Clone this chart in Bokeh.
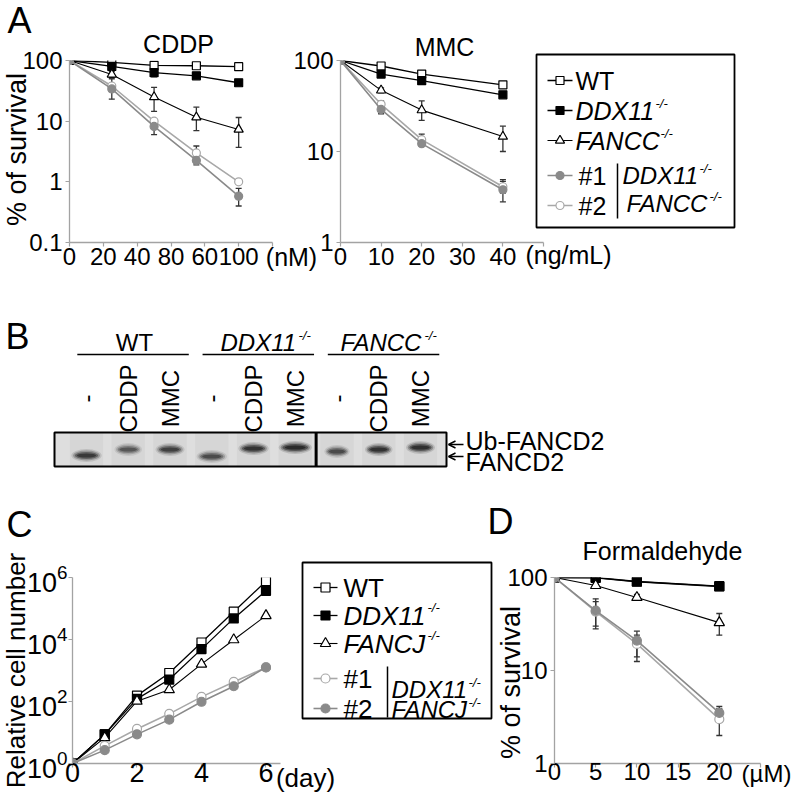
import math
from bokeh.plotting import figure
from bokeh.layouts import row, column
from bokeh.models import (Range1d, FixedTicker, Whisker, TeeHead,
                          ColumnDataSource, Arrow, OpenHead)
from bokeh.embed import file_html
from bokeh.resources import INLINE
from bokeh.core.properties import value

FONT = "Liberation Sans"
AXIS_GRAY = "#a3a3a3"
ERR_COLOR = "#333333"
GRAY_FILLED = "#8a8a8a"
GRAY_OPEN = "#a8a8a8"

# ---------------- Panel A : CDDP ----------------
CDDP_DOSE = [0, 25, 50, 75, 100]
CDDP_TICKS = [0, 20, 40, 60, 80, 100, 120]
CDDP_TICK_LABELS = ["0", "20", "40", "80", "60", "100", ""]
CDDP_Y_TICKS = [0.1, 1, 10, 100]
CDDP_Y_LABELS = ["0.1", "1", "10", "100"]
CDDP_WT = [100, 93, 83, 82, 79]
CDDP_WT_LO = [100, 89, 77, 78, 76]
CDDP_WT_HI = [100, 97, 90, 86, 82]
CDDP_DDX11 = [100, 80, 63, 56, 43]
CDDP_DDX11_LO = [100, 76, 54, 52, 41]
CDDP_DDX11_HI = [100, 84, 73, 60, 46]
CDDP_FANCC = [100, 59, 25, 11.6, 7.3]
CDDP_FANCC_LO = [100, 53, 14.5, 7, 3.7]
CDDP_FANCC_HI = [100, 66, 36, 17, 11.5]
CDDP_DKO1 = [100, 34, 8.2, 2.25, 0.58]
CDDP_DKO1_LO = [100, 23, 6, 1.9, 0.4]
CDDP_DKO1_HI = [100, 50, 11, 2.9, 0.78]
CDDP_DKO2 = [100, 38, 10, 3.0, 1.0]
CDDP_DKO2_LO = [100, 35, 9, 2.6, 0.95]
CDDP_DKO2_HI = [100, 41, 11, 3.9, 1.05]

# ---------------- Panel A : MMC ----------------
MMC_DOSE = [0, 10, 20, 40]
MMC_TICKS = [0, 10, 20, 30, 40, 50]
MMC_TICK_LABELS = ["0", "10", "20", "30", "40", ""]
MMC_Y_TICKS = [1, 10, 100]
MMC_Y_LABELS = ["1", "10", "100"]
MMC_WT = [100, 87, 71, 54]
MMC_WT_LO = [100, 80, 67, 51]
MMC_WT_HI = [100, 94, 75, 57]
MMC_DDX11 = [100, 71, 60, 42]
MMC_DDX11_LO = [100, 68, 57, 40]
MMC_DDX11_HI = [100, 74, 63, 44]
MMC_FANCC = [100, 47, 28.5, 14.6]
MMC_FANCC_LO = [100, 44, 22, 10]
MMC_FANCC_HI = [100, 50, 36, 19]
MMC_DKO1 = [100, 29, 12.2, 3.8]
MMC_DKO1_LO = [100, 26, 11.5, 2.8]
MMC_DKO1_HI = [100, 32, 13, 4.9]
MMC_DKO2 = [100, 33, 13.5, 4.1]
MMC_DKO2_LO = [100, 31, 12, 3.5]
MMC_DKO2_HI = [100, 36, 15.5, 4.7]

# ---------------- Panel B : western blot ----------------
BLOT_GROUPS = ["WT", "DDX11", "FANCC"]
BLOT_TREATMENTS = ["-", "CDDP", "MMC"]
BAND_MIGRATION = [23, 17, 17, 24, 16, 15, 19, 17, 15]
BAND_INTENSITY = [0.85, 0.6, 0.78, 0.68, 0.9, 1.0, 0.7, 0.92, 0.95]
BAND_WIDTH = [0.66, 0.6, 0.63, 0.66, 0.66, 0.72, 0.55, 0.6, 0.63]

# ---------------- Panel C : growth ----------------
C_DAYS = [0, 1, 2, 3, 4, 5, 6]
C_X_TICKS = [0, 2, 4, 6]
C_Y_TICKS = [1, 100, 10000, 1000000]
C_WT = [1, 8.7, 155, 830, 8000, 79000, 760000]
C_DDX11 = [1, 8.7, 122, 510, 4900, 48000, 372000]
C_FANCJ = [1, 6.8, 102, 240, 1600, 9800, 59000]
C_DKO1 = [1, 3.7, 13, 40, 141, 427, 1260]
C_DKO2 = [1, 2.7, 8.7, 26, 98, 310, 1260]

# ---------------- Panel D : formaldehyde ----------------
D_DOSE = [0, 5, 10, 20]
D_TICKS = [0, 5, 10, 15, 20, 25]
D_TICK_LABELS = ["0", "5", "10", "15", "20", ""]
D_Y_TICKS = [1, 10, 100]
D_Y_LABELS = ["1", "10", "100"]
D_WT = [100, 99, 90, 80]
D_DDX11 = [100, 100, 90.6, 80.6]
D_DDX11_LO = [100, 97, 88, 78]
D_DDX11_HI = [100, 103, 93, 83]
D_FANCJ = [100, 82, 61, 32.7]
D_FANCJ_LO = [100, 79, 57, 24]
D_FANCJ_HI = [100, 85, 66, 41]
D_DKO1 = [100, 43, 19.3, 3.0]
D_DKO1_LO = [100, 30, 14, 2.0]
D_DKO1_HI = [100, 55, 24, 4.1]
D_DKO2 = [100, 44, 21, 3.5]
D_DKO2_LO = [100, 28, 12.5, 3.1]
D_DKO2_HI = [100, 59, 26.5, 3.9]

# ---------------- styles ----------------
STY_WT = dict(marker="square", fill="white", edge="black", line="black", lw=1.3, scale=1.0)
STY_DDX11 = dict(marker="square", fill="black", edge="black", line="black", lw=1.3, scale=1.0)
STY_FANC = dict(marker="triangle", fill="white", edge="black", line="black", lw=1.1, scale=1.15)
STY_FILLED = dict(marker="circle", fill=GRAY_FILLED, edge=GRAY_FILLED, line=GRAY_FILLED, lw=1.6, scale=1.0)
STY_OPEN = dict(marker="circle", fill="white", edge=GRAY_OPEN, line=GRAY_OPEN, lw=1.6, scale=1.0)


def data_fig(box, frame, xr, yr, tick_font, x_standoff):
    fx0, fy0, fx1, fy1 = box
    l, t, r, b = frame
    p = figure(width=fx1 - fx0, height=fy1 - fy0, output_backend="svg",
               toolbar_location=None, title=None,
               x_range=Range1d(*xr), y_range=Range1d(*yr), y_axis_type="log",
               min_border_left=l - fx0, min_border_right=fx1 - r,
               min_border_top=t - fy0, min_border_bottom=fy1 - b)
    p.background_fill_color = None
    p.border_fill_color = None
    p.outline_line_color = None
    p.grid.visible = False
    for ax in (p.xaxis[0], p.yaxis[0]):
        ax.axis_line_color = AXIS_GRAY
        ax.axis_line_width = 1.3
        ax.major_tick_line_color = AXIS_GRAY
        ax.major_tick_line_width = 1.2
        ax.major_tick_in = 0
        ax.major_tick_out = 4
        ax.minor_tick_line_color = None
        ax.major_label_text_font = FONT
        ax.major_label_text_font_size = tick_font
        ax.major_label_text_color = "black"
    p.xaxis.major_label_standoff = x_standoff
    p.yaxis.major_label_standoff = 3
    return p


def layout_fig(box, xr, yr):
    fx0, fy0, fx1, fy1 = box
    p = figure(width=fx1 - fx0, height=fy1 - fy0, x_range=Range1d(*xr), y_range=Range1d(*yr),
               x_axis_type=None, y_axis_type=None, min_border=0, toolbar_location=None,
               output_backend="svg", title=None)
    p.outline_line_color = None
    p.background_fill_color = None
    p.border_fill_color = None
    return p


def txt(p, x, y, s, size, align="left", style="normal", angle=0.0):
    p.text(x=[x], y=[y], text=[s], text_font=value(FONT), text_font_size=f"{size}px",
           text_align=align, text_baseline="middle", text_font_style=style,
           angle=angle, text_color="black")


def draw_series(p, x, y, lo, hi, sty, size):
    if lo is not None:
        rows = [(xi, a, b) for xi, a, b in zip(x, lo, hi) if b > a]
        if rows:
            src = ColumnDataSource(dict(x=[r[0] for r in rows], lo=[r[1] for r in rows],
                                        hi=[r[2] for r in rows]))
            p.add_layout(Whisker(source=src, base="x", lower="lo", upper="hi",
                                 line_color=ERR_COLOR, line_width=1.3,
                                 upper_head=TeeHead(size=6, line_color=ERR_COLOR, line_width=1.3),
                                 lower_head=TeeHead(size=6, line_color=ERR_COLOR, line_width=1.3)))
    p.line(x, y, line_color=sty["line"], line_width=sty["lw"])
    p.scatter(x, y, marker=sty["marker"], size=size * sty["scale"], fill_color=sty["fill"],
              line_color=sty["edge"], line_width=1.2)


def legend_item(p, x0, x1, y, sty, size):
    p.segment(x0=[x0], y0=[y], x1=[x1], y1=[y], line_color=sty["line"], line_width=sty["lw"])
    p.scatter([(x0 + x1) / 2], [y], marker=sty["marker"], size=size * sty["scale"],
              fill_color=sty["fill"], line_color=sty["edge"], line_width=1.2)


# ======== Panel A: CDDP ========
p1 = data_fig((0, 0, 330, 310), (69, 60, 272, 242), (0, 120), (0.1, 100), "24px", 1)
p1.xaxis.ticker = FixedTicker(ticks=CDDP_TICKS)
p1.xaxis.major_label_overrides = dict(zip(CDDP_TICKS, CDDP_TICK_LABELS))
p1.yaxis.ticker = FixedTicker(ticks=CDDP_Y_TICKS)
p1.yaxis.major_label_overrides = dict(zip(CDDP_Y_TICKS, CDDP_Y_LABELS))
draw_series(p1, CDDP_DOSE, CDDP_WT, CDDP_WT_LO, CDDP_WT_HI, STY_WT, 8)
draw_series(p1, CDDP_DOSE, CDDP_DDX11, CDDP_DDX11_LO, CDDP_DDX11_HI, STY_DDX11, 8)
draw_series(p1, CDDP_DOSE, CDDP_FANCC, CDDP_FANCC_LO, CDDP_FANCC_HI, STY_FANC, 8)
draw_series(p1, CDDP_DOSE, CDDP_DKO2, CDDP_DKO2_LO, CDDP_DKO2_HI, STY_OPEN, 8)
draw_series(p1, CDDP_DOSE, CDDP_DKO1, CDDP_DKO1_LO, CDDP_DKO1_HI, STY_FILLED, 8)

# ======== Panel A: MMC ========
p2 = data_fig((285, 0, 620, 310), (340, 60, 543, 242), (0, 50), (1, 100), "24px", 1)
p2.xaxis.ticker = FixedTicker(ticks=MMC_TICKS)
p2.xaxis.major_label_overrides = dict(zip(MMC_TICKS, MMC_TICK_LABELS))
p2.yaxis.ticker = FixedTicker(ticks=MMC_Y_TICKS)
p2.yaxis.major_label_overrides = dict(zip(MMC_Y_TICKS, MMC_Y_LABELS))
draw_series(p2, MMC_DOSE, MMC_WT, MMC_WT_LO, MMC_WT_HI, STY_WT, 8)
draw_series(p2, MMC_DOSE, MMC_DDX11, MMC_DDX11_LO, MMC_DDX11_HI, STY_DDX11, 8)
draw_series(p2, MMC_DOSE, MMC_FANCC, MMC_FANCC_LO, MMC_FANCC_HI, STY_FANC, 8)
draw_series(p2, MMC_DOSE, MMC_DKO2, MMC_DKO2_LO, MMC_DKO2_HI, STY_OPEN, 8)
draw_series(p2, MMC_DOSE, MMC_DKO1, MMC_DKO1_LO, MMC_DKO1_HI, STY_FILLED, 8)

# ======== Panel B: blot ========
LANE0_PX, LANE_STEP = 86, 41.75


def bx(px):
    return (px - LANE0_PX) / LANE_STEP


pb = layout_fig((0, 310, 792, 500), (bx(0), bx(792)), (500, 310))
lanes = list(range(len(BLOT_GROUPS) * len(BLOT_TREATMENTS)))
lane_labels = [t for g in BLOT_GROUPS for t in BLOT_TREATMENTS]
BLOT_TOP, BLOT_BOTTOM = 432, 466
pb.quad(left=[bx(54)], right=[bx(446)], top=[BLOT_TOP], bottom=[BLOT_BOTTOM],
        fill_color="#dedede", line_color=None)
pb.rect(x=lanes, y=[(BLOT_TOP + BLOT_BOTTOM) / 2] * len(lanes), width=0.8,
        height=BLOT_BOTTOM - BLOT_TOP, fill_color="#000000", fill_alpha=0.035, line_color=None)
band_y = [BLOT_TOP + m for m in BAND_MIGRATION]
for fw, h, a in [(1.1, 13, 0.14), (0.97, 10, 0.28), (0.85, 7, 0.45), (0.7, 4, 0.6)]:
    pb.ellipse(x=lanes, y=band_y, width=[w * fw for w in BAND_WIDTH], height=h,
               fill_color="#111111", fill_alpha=[a * i for i in BAND_INTENSITY], line_color=None)
pb.quad(left=[bx(54)], right=[bx(446)], top=[BLOT_TOP], bottom=[BLOT_BOTTOM],
        fill_color=None, line_color="black", line_width=2)
pb.segment(x0=[5.5], y0=[BLOT_TOP], x1=[5.5], y1=[BLOT_BOTTOM], line_color="black", line_width=3)
pb.text(x=lanes, y=[398] * len(lanes), text=lane_labels, text_font=value(FONT),
        text_font_size=value("24px"), text_align="center", text_baseline="middle",
        angle=math.pi / 2, text_color="black")
n_t = len(BLOT_TREATMENTS)
pb.segment(x0=[g * n_t - 0.22 for g in range(len(BLOT_GROUPS))], y0=[354] * 3,
           x1=[g * n_t + n_t - 0.55 for g in range(len(BLOT_GROUPS))], y1=[354] * 3,
           line_color="black", line_width=1.5)
txt(pb, bx(134), 342, "WT", 24, align="center")
txt(pb, bx(220), 342, "DDX11", 24, style="italic")
txt(pb, bx(298), 335, "-/-", 13, style="italic")
txt(pb, bx(340), 342, "FANCC", 24, style="italic")
txt(pb, bx(424), 335, "-/-", 13, style="italic")
txt(pb, bx(17), 336, "B", 36, align="center")
for yy in (444, 456):
    pb.add_layout(Arrow(x_start=bx(463), y_start=yy, x_end=bx(448), y_end=yy,
                        line_color="black", line_width=1.4,
                        end=OpenHead(size=7, line_color="black", line_width=1.4)))
txt(pb, bx(465), 440, "Ub-FANCD2", 25)
txt(pb, bx(465), 461, "FANCD2", 25)

# ======== Panel C ========
p3 = data_fig((0, 500, 345, 796), (72, 577, 280, 763), (0, 6.45), (1, 1e6), "27px", -5)
p3.xaxis.ticker = FixedTicker(ticks=C_X_TICKS)
p3.yaxis.ticker = FixedTicker(ticks=C_Y_TICKS)
p3.yaxis.major_label_standoff = 1
draw_series(p3, C_DAYS, C_WT, None, None, STY_WT, 9)
draw_series(p3, C_DAYS, C_DDX11, None, None, STY_DDX11, 9)
draw_series(p3, C_DAYS, C_FANCJ, None, None, STY_FANC, 9)
draw_series(p3, C_DAYS, C_DKO1, None, None, STY_OPEN, 9)
draw_series(p3, C_DAYS, C_DKO2, None, None, STY_FILLED, 9)

# ======== Panel D ========
p4 = data_fig((480, 500, 792, 796), (554, 577, 760, 763), (0, 25), (1, 100), "24px", -5)
p4.xaxis.ticker = FixedTicker(ticks=D_TICKS)
p4.xaxis.major_label_overrides = dict(zip(D_TICKS, D_TICK_LABELS))
p4.yaxis.ticker = FixedTicker(ticks=D_Y_TICKS)
p4.yaxis.major_label_overrides = dict(zip(D_Y_TICKS, D_Y_LABELS))
draw_series(p4, D_DOSE, D_WT, None, None, STY_WT, 9)
draw_series(p4, D_DOSE, D_DDX11, D_DDX11_LO, D_DDX11_HI, STY_DDX11, 9)
draw_series(p4, D_DOSE, D_FANCJ, D_FANCJ_LO, D_FANCJ_HI, STY_FANC, 9)
draw_series(p4, D_DOSE, D_DKO1, D_DKO1_LO, D_DKO1_HI, STY_OPEN, 9)
draw_series(p4, D_DOSE, D_DKO2, D_DKO2_LO, D_DKO2_HI, STY_FILLED, 9)

# ======== Overlay: panel letters, titles, axis titles, units, legends ========
ov = layout_fig((0, 0, 792, 796), (0, 792), (796, 0))
# panel A
txt(ov, 19, 20, "A", 36, align="center")
txt(ov, 178, 43, "CDDP", 25, align="center")
txt(ov, 16, 149, "% of survival", 27, align="center", angle=math.pi / 2)
txt(ov, 291, 256, "(nM)", 25, align="center")
txt(ov, 444, 46, "MMC", 25, align="center")
txt(ov, 568, 254, "(ng/mL)", 25, align="center")
# legend A
ov.quad(left=[536], right=[734], top=[54], bottom=[227], fill_color=None,
        line_color="black", line_width=1.8)
legend_item(ov, 547, 572, 80, STY_WT, 8)
txt(ov, 575, 80, "WT", 25)
legend_item(ov, 547, 572, 110, STY_DDX11, 8)
txt(ov, 575, 110, "DDX11", 25, style="italic")
txt(ov, 655, 103, "-/-", 13, style="italic")
legend_item(ov, 547, 572, 140, STY_FANC, 8)
txt(ov, 575, 140, "FANCC", 25, style="italic")
txt(ov, 660, 133, "-/-", 13, style="italic")
legend_item(ov, 547, 572, 175, STY_FILLED, 8)
txt(ov, 578, 175, "#1", 25)
legend_item(ov, 547, 572, 205, STY_OPEN, 8)
txt(ov, 578, 205, "#2", 25)
ov.segment(x0=[617], y0=[163], x1=[617], y1=[218], line_color="black", line_width=1.5)
txt(ov, 622, 175, "DDX11", 24, style="italic")
txt(ov, 699, 168, "-/-", 13, style="italic")
txt(ov, 626, 203, "FANCC", 24, style="italic")
txt(ov, 709, 196, "-/-", 13, style="italic")
# panel C
txt(ov, 19, 524, "C", 36, align="center")
txt(ov, 15, 670, "Relative cell number", 26, align="center", angle=math.pi / 2)
txt(ov, 305, 777, "(day)", 26, align="center")
# legend C
ov.quad(left=[302], right=[491], top=[562], bottom=[718], fill_color=None,
        line_color="black", line_width=1.8)
legend_item(ov, 313, 337, 587, STY_WT, 9)
txt(ov, 343, 587, "WT", 26)
legend_item(ov, 313, 337, 615, STY_DDX11, 9)
txt(ov, 343, 615, "DDX11", 26, style="italic")
txt(ov, 427, 607, "-/-", 13, style="italic")
legend_item(ov, 313, 337, 643, STY_FANC, 9)
txt(ov, 343, 643, "FANCJ", 26, style="italic")
txt(ov, 427, 635, "-/-", 13, style="italic")
legend_item(ov, 313, 337, 678, STY_OPEN, 9)
txt(ov, 343, 678, "#1", 26)
legend_item(ov, 313, 337, 708, STY_FILLED, 9)
txt(ov, 343, 708, "#2", 26)
ov.segment(x0=[387], y0=[666], x1=[387], y1=[717], line_color="black", line_width=1.5)
txt(ov, 391, 689, "DDX11", 24, style="italic")
txt(ov, 468, 682, "-/-", 13, style="italic")
txt(ov, 391, 709, "FANCJ", 24, style="italic")
txt(ov, 468, 702, "-/-", 13, style="italic")
# panel D
txt(ov, 500, 521, "D", 36, align="center")
txt(ov, 662, 550, "Formaldehyde", 25, align="center")
txt(ov, 510, 682, "% of survival", 27, align="center", angle=math.pi / 2)
txt(ov, 766, 773, "(µM)", 24, align="center")

# ======== layout ========
p2.margin = (0, 0, 0, -45)
p4.margin = (0, 0, 0, 135)
ov.margin = (-796, 0, 0, 0)
layout = column(row(p1, p2), pb, row(p3, p4), ov)

open("out.html", "w").write(file_html(layout, INLINE))
